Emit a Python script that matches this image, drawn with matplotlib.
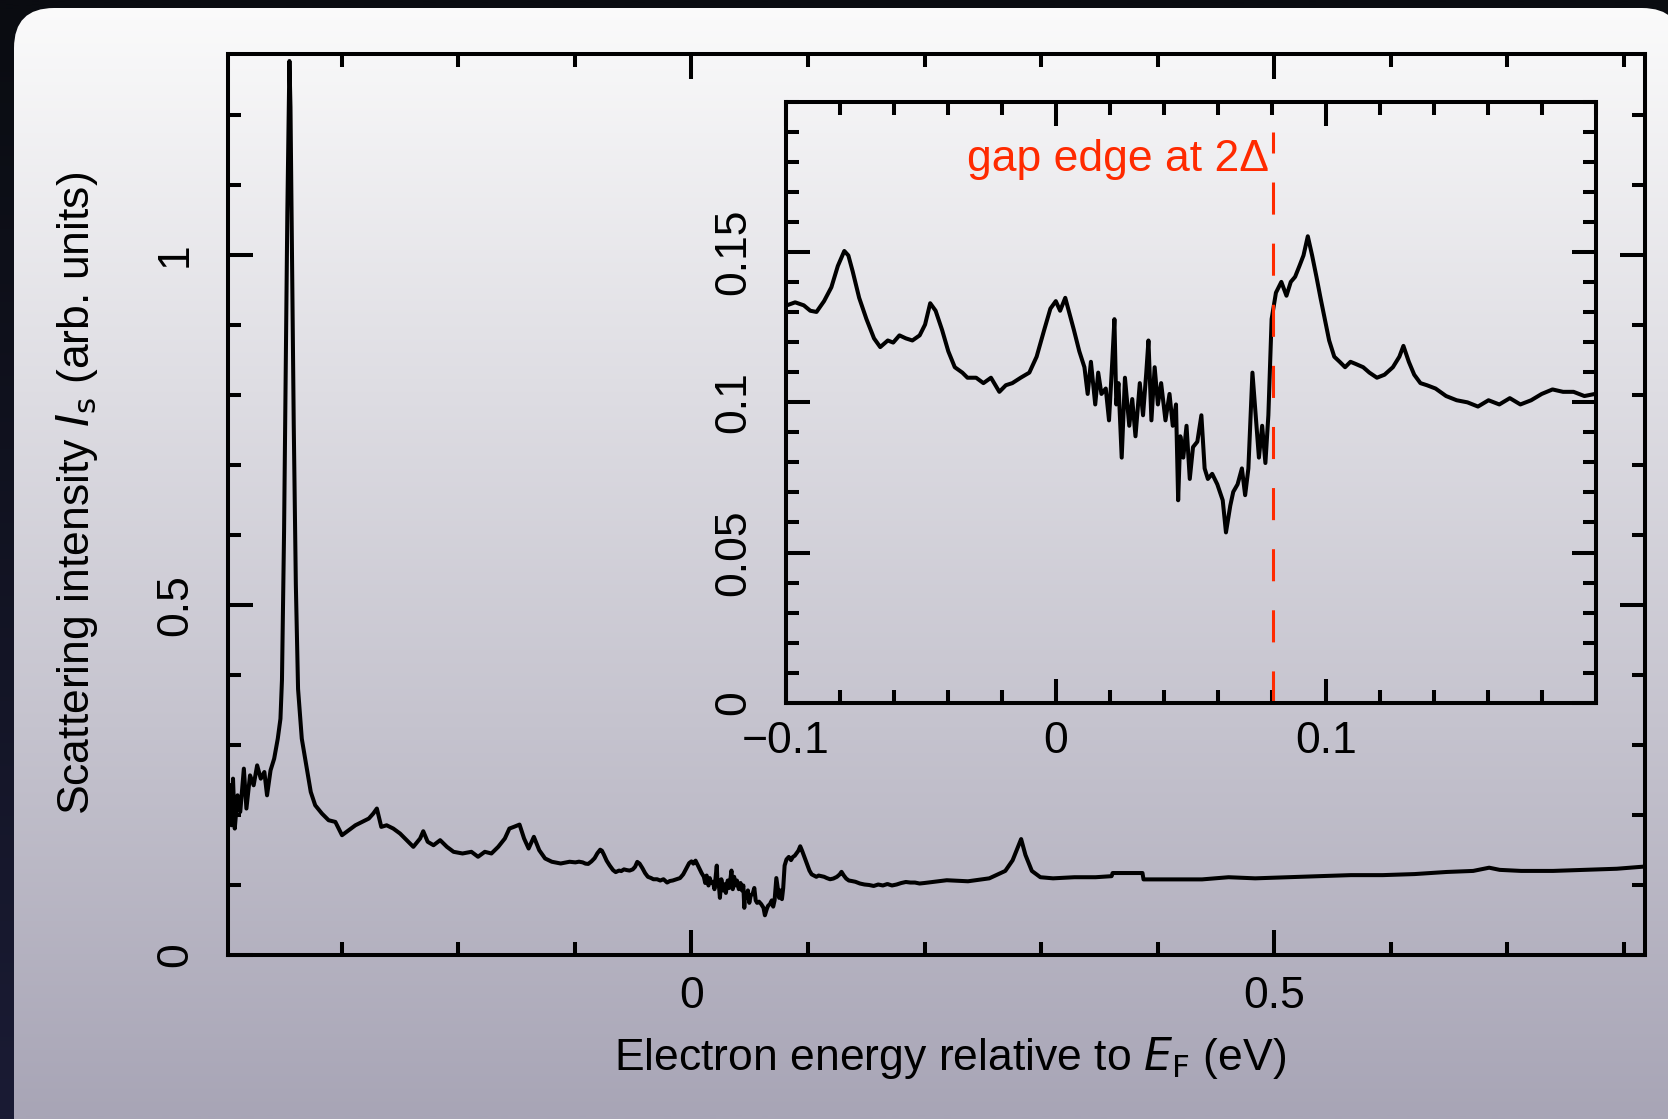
import numpy as np
import matplotlib
matplotlib.use("Agg")
import matplotlib.pyplot as plt
from matplotlib.patches import FancyBboxPatch
from matplotlib.ticker import MultipleLocator

plt.rcParams['font.family'] = ['Liberation Sans', 'DejaVu Sans']

W, H = 1668, 1119

# spectrum
energy = [
    -0.3963, -0.3947, -0.3933, -0.3918, -0.3894, -0.3871, -0.3840, -0.3818, -0.3787, -0.3756,
    -0.3726, -0.3695, -0.3664, -0.3641, -0.3611, -0.3580, -0.3549, -0.3526, -0.3513, -0.3495,
    -0.3481, -0.3467, -0.3455, -0.3449, -0.3440, -0.3426, -0.3412, -0.3394, -0.3375, -0.3343,
    -0.3304, -0.3266, -0.3228, -0.3170, -0.3113, -0.3055, -0.2998, -0.2940, -0.2883, -0.2826,
    -0.2768, -0.2730, -0.2699, -0.2661, -0.2615, -0.2558, -0.2500, -0.2443, -0.2386, -0.2328,
    -0.2301, -0.2263, -0.2213, -0.2156, -0.2098, -0.2041, -0.1964, -0.1888, -0.1831, -0.1773,
    -0.1716, -0.1658, -0.1601, -0.1562, -0.1524, -0.1475, -0.1436, -0.1397, -0.1352, -0.1306,
    -0.1256, -0.1198, -0.1122, -0.1046,
    -0.0996, -0.0965, -0.0933, -0.0909, -0.0886, -0.0858, -0.0831, -0.0807, -0.0783, -0.0768,
    -0.0752, -0.0728, -0.0701, -0.0673, -0.0650, -0.0622, -0.0602, -0.0579, -0.0555, -0.0531,
    -0.0504, -0.0484, -0.0465, -0.0445, -0.0421, -0.0398, -0.0374, -0.0346, -0.0327, -0.0295,
    -0.0268, -0.0240, -0.0209, -0.0185, -0.0161, -0.0130, -0.0098, -0.0071, -0.0043, -0.0020,
    0.0000, 0.0016, 0.0035, 0.0051, 0.0067, 0.0087, 0.0106, 0.0118, 0.0130, 0.0146,
    0.0157, 0.0169, 0.0185, 0.0197, 0.0209, 0.0217, 0.0224, 0.0232, 0.0244, 0.0256,
    0.0272, 0.0283, 0.0295, 0.0311, 0.0323, 0.0335, 0.0343, 0.0354, 0.0366, 0.0378,
    0.0390, 0.0406, 0.0421, 0.0433, 0.0445, 0.0453, 0.0461, 0.0472, 0.0484, 0.0496,
    0.0508, 0.0524, 0.0539, 0.0551, 0.0563, 0.0579, 0.0598, 0.0618, 0.0630, 0.0646,
    0.0657, 0.0673, 0.0689, 0.0701, 0.0713, 0.0728, 0.0740, 0.0752, 0.0764, 0.0776,
    0.0787, 0.0799, 0.0815, 0.0835, 0.0854, 0.0870, 0.0886, 0.0902, 0.0917, 0.0933,
    0.0949, 0.0965, 0.0980, 0.0996, 0.1012, 0.1031, 0.1051, 0.1071, 0.1091, 0.1110,
    0.1138, 0.1161, 0.1189, 0.1217, 0.1248, 0.1272, 0.1287, 0.1307, 0.1327, 0.1350,
    0.1374, 0.1406, 0.1445, 0.1484, 0.1524, 0.1563, 0.1602, 0.1642, 0.1681, 0.1720,
    0.1760, 0.1799, 0.1839, 0.1878, 0.1917, 0.1957, 0.1996,
    0.2190, 0.2372, 0.2555, 0.2692, 0.2755, 0.2828, 0.2865, 0.2920, 0.2993, 0.3102,
    0.3285, 0.3467, 0.3604, 0.3613, 0.3869, 0.3878, 0.4106, 0.4380, 0.4608, 0.4836,
    0.5109, 0.5383, 0.5657, 0.5931, 0.6204, 0.6478, 0.6706, 0.6843, 0.6934, 0.7117,
    0.7391, 0.7664, 0.7938, 0.8166,
]
intensity = [
    0.2424, 0.1853, 0.2519, 0.1806, 0.2281, 0.2044, 0.2662, 0.2092, 0.2566, 0.2424,
    0.2709, 0.2519, 0.2614, 0.2281, 0.2638, 0.2804, 0.3090, 0.3375, 0.3930, 0.6050,
    0.8320, 1.0600, 1.2110, 1.2770, 1.2110, 0.9840, 0.7570, 0.5290, 0.3800, 0.3090,
    0.2709, 0.2329, 0.2139, 0.2020, 0.1925, 0.1901, 0.1711, 0.1782, 0.1853, 0.1901,
    0.1949, 0.2020, 0.2092, 0.1830, 0.1853, 0.1806, 0.1735, 0.1640, 0.1545, 0.1664,
    0.1768, 0.1617, 0.1568, 0.1640, 0.1545, 0.1474, 0.1450, 0.1474, 0.1403, 0.1474,
    0.1450, 0.1545, 0.1664, 0.1806, 0.1830, 0.1863, 0.1664, 0.1521, 0.1688, 0.1497,
    0.1379, 0.1332, 0.1307, 0.1332,
    0.1323, 0.1333, 0.1323, 0.1305, 0.1301, 0.1337, 0.1383, 0.1454, 0.1504, 0.1489,
    0.1436, 0.1348, 0.1277, 0.1213, 0.1184, 0.1206, 0.1199, 0.1223, 0.1213, 0.1206,
    0.1223, 0.1259, 0.1330, 0.1305, 0.1241, 0.1170, 0.1117, 0.1099, 0.1082, 0.1082,
    0.1064, 0.1082, 0.1035, 0.1057, 0.1064, 0.1082, 0.1099, 0.1152, 0.1241, 0.1312,
    0.1337, 0.1305, 0.1348, 0.1294, 0.1241, 0.1170, 0.1117, 0.1028, 0.1135, 0.0993,
    0.1099, 0.1028, 0.1046, 0.0940, 0.1135, 0.1277, 0.0993, 0.1064, 0.0816, 0.1082,
    0.0922, 0.1011, 0.0887, 0.1064, 0.0957, 0.1099, 0.1206, 0.0940, 0.1117, 0.0993,
    0.1064, 0.0940, 0.1028, 0.0922, 0.0993, 0.0674, 0.0887, 0.0816, 0.0922, 0.0745,
    0.0851, 0.0869, 0.0957, 0.0780, 0.0745, 0.0762, 0.0727, 0.0674, 0.0567, 0.0656,
    0.0702, 0.0727, 0.0780, 0.0691, 0.0780, 0.1099, 0.0957, 0.0816, 0.0922, 0.0798,
    0.0957, 0.1277, 0.1365, 0.1401, 0.1355, 0.1401, 0.1418, 0.1454, 0.1489, 0.1553,
    0.1489, 0.1418, 0.1348, 0.1277, 0.1206, 0.1152, 0.1135, 0.1117, 0.1135, 0.1128,
    0.1117, 0.1099, 0.1082, 0.1092, 0.1117, 0.1152, 0.1188, 0.1135, 0.1092, 0.1064,
    0.1057, 0.1046, 0.1021, 0.1007, 0.1000, 0.0986, 0.1007, 0.0993, 0.1014, 0.0993,
    0.1007, 0.1028, 0.1043, 0.1035, 0.1035, 0.1021, 0.1028,
    0.1068, 0.1053, 0.1095, 0.1201, 0.1353, 0.1656, 0.1429, 0.1201, 0.1111, 0.1095,
    0.1111, 0.1111, 0.1126, 0.1171, 0.1171, 0.1080, 0.1080, 0.1080, 0.1111, 0.1095,
    0.1111, 0.1126, 0.1141, 0.1141, 0.1156, 0.1186, 0.1201, 0.1247, 0.1216, 0.1201,
    0.1201, 0.1216, 0.1232, 0.1262,
]

main_xticks = [0, 0.5]
main_xticklabels = ['0', '0.5']
main_yticks = [0, 0.5, 1]
main_yticklabels = ['0', '0.5', '1']
inset_xticks = [-0.1, 0, 0.1]
inset_xticklabels = ['\u22120.1', '0', '0.1']
inset_yticks = [0, 0.05, 0.1, 0.15]
inset_yticklabels = ['0', '0.05', '0.1', '0.15']
edge_energy = 0.0803
edge_label = 'gap edge at 2\u0394'

fig = plt.figure(figsize=(W / 100, H / 100), dpi=100)

# backdrop: dark surround with a rounded, graded panel
bg = fig.add_axes([0, 0, 1, 1], zorder=-10)
bg.set_xlim(0, W)
bg.set_ylim(H, 0)
bg.axis('off')
dark = np.linspace([10, 12, 17], [26, 27, 52], 64)[:, None, :] / 255
bg.imshow(dark, extent=(0, W, H, 0), aspect='auto', interpolation='bilinear')
panel = FancyBboxPatch((14, 8), W, H + 40, boxstyle='round,pad=0,rounding_size=40',
                       facecolor='none', edgecolor='none')
bg.add_patch(panel)
shade = np.linspace([251, 251, 251], [168, 165, 182], 128)[:, None, :] / 255
img = bg.imshow(shade, extent=(0, W, H, 0), aspect='auto', interpolation='bilinear')
img.set_clip_path(panel)
bg.set_xlim(0, W)
bg.set_ylim(H, 0)

LW_AX = 2.9
LW_DATA = 2.9
FS = 32


def style_axes(ax, major_len, minor_len, xpad, ypad):
    for sp in ax.spines.values():
        sp.set_linewidth(LW_AX)
    ax.tick_params(which='both', direction='in', top=True, right=True,
                   width=LW_AX, color='black', labelsize=FS)
    ax.tick_params(which='major', length=major_len)
    ax.tick_params(which='minor', length=minor_len)
    ax.tick_params(axis='x', which='major', pad=xpad)
    ax.tick_params(axis='y', which='major', pad=ypad)


# main spectrum
ax = fig.add_axes([228 / W, 1 - 955 / H, 1417 / W, 901 / H], facecolor='none')
ax.plot(energy, intensity, color='black', lw=LW_DATA, solid_joinstyle='round')
ax.set_xlim(-0.3976, 0.818)
ax.set_ylim(0, 1.287)
ax.set_xticks(main_xticks, main_xticklabels)
ax.set_yticks(main_yticks, main_yticklabels, rotation=90, va='center')
ax.xaxis.set_minor_locator(MultipleLocator(0.1))
ax.yaxis.set_minor_locator(MultipleLocator(0.1))
style_axes(ax, 18, 9.5, 15, 23)
ax.set_xlabel('Electron energy relative to $E_\\mathrm{F}$ (eV)', fontsize=FS)
ax.xaxis.set_label_coords(0.5095, -0.1143)
ax.xaxis.label.set_va('center')
ax.set_ylabel('Scattering intensity $I_\\mathrm{s}$ (arb. units)', fontsize=FS)
ax.yaxis.set_label_coords(-0.1066, 0.512)
ax.yaxis.label.set_va('center')

# zoom on the region around the edge
ins = fig.add_axes([785.7 / W, 1 - 702.7 / H, 810.3 / W, 600.7 / H], facecolor='none')
ins.plot(energy, intensity, color='black', lw=LW_DATA, solid_joinstyle='round')
ins.set_xlim(-0.1, 0.2)
ins.set_ylim(0, 0.2)
ins.set_xticks(inset_xticks, inset_xticklabels)
ins.set_yticks(inset_yticks, inset_yticklabels, rotation=90, va='center')
ins.xaxis.set_minor_locator(MultipleLocator(0.02))
ins.yaxis.set_minor_locator(MultipleLocator(0.01))
style_axes(ins, 17, 9.5, 13, 23)
ins.plot([edge_energy, edge_energy], [0, 0.19], color='#ff2a00', lw=2.2,
         linestyle=(0, (10.5, 9.5)))
ins.text(edge_energy - 0.0015, 0.181, edge_label, color='#ff2a00', fontsize=FS,
         ha='right', va='center')

fig.savefig('out.png', dpi=100)
